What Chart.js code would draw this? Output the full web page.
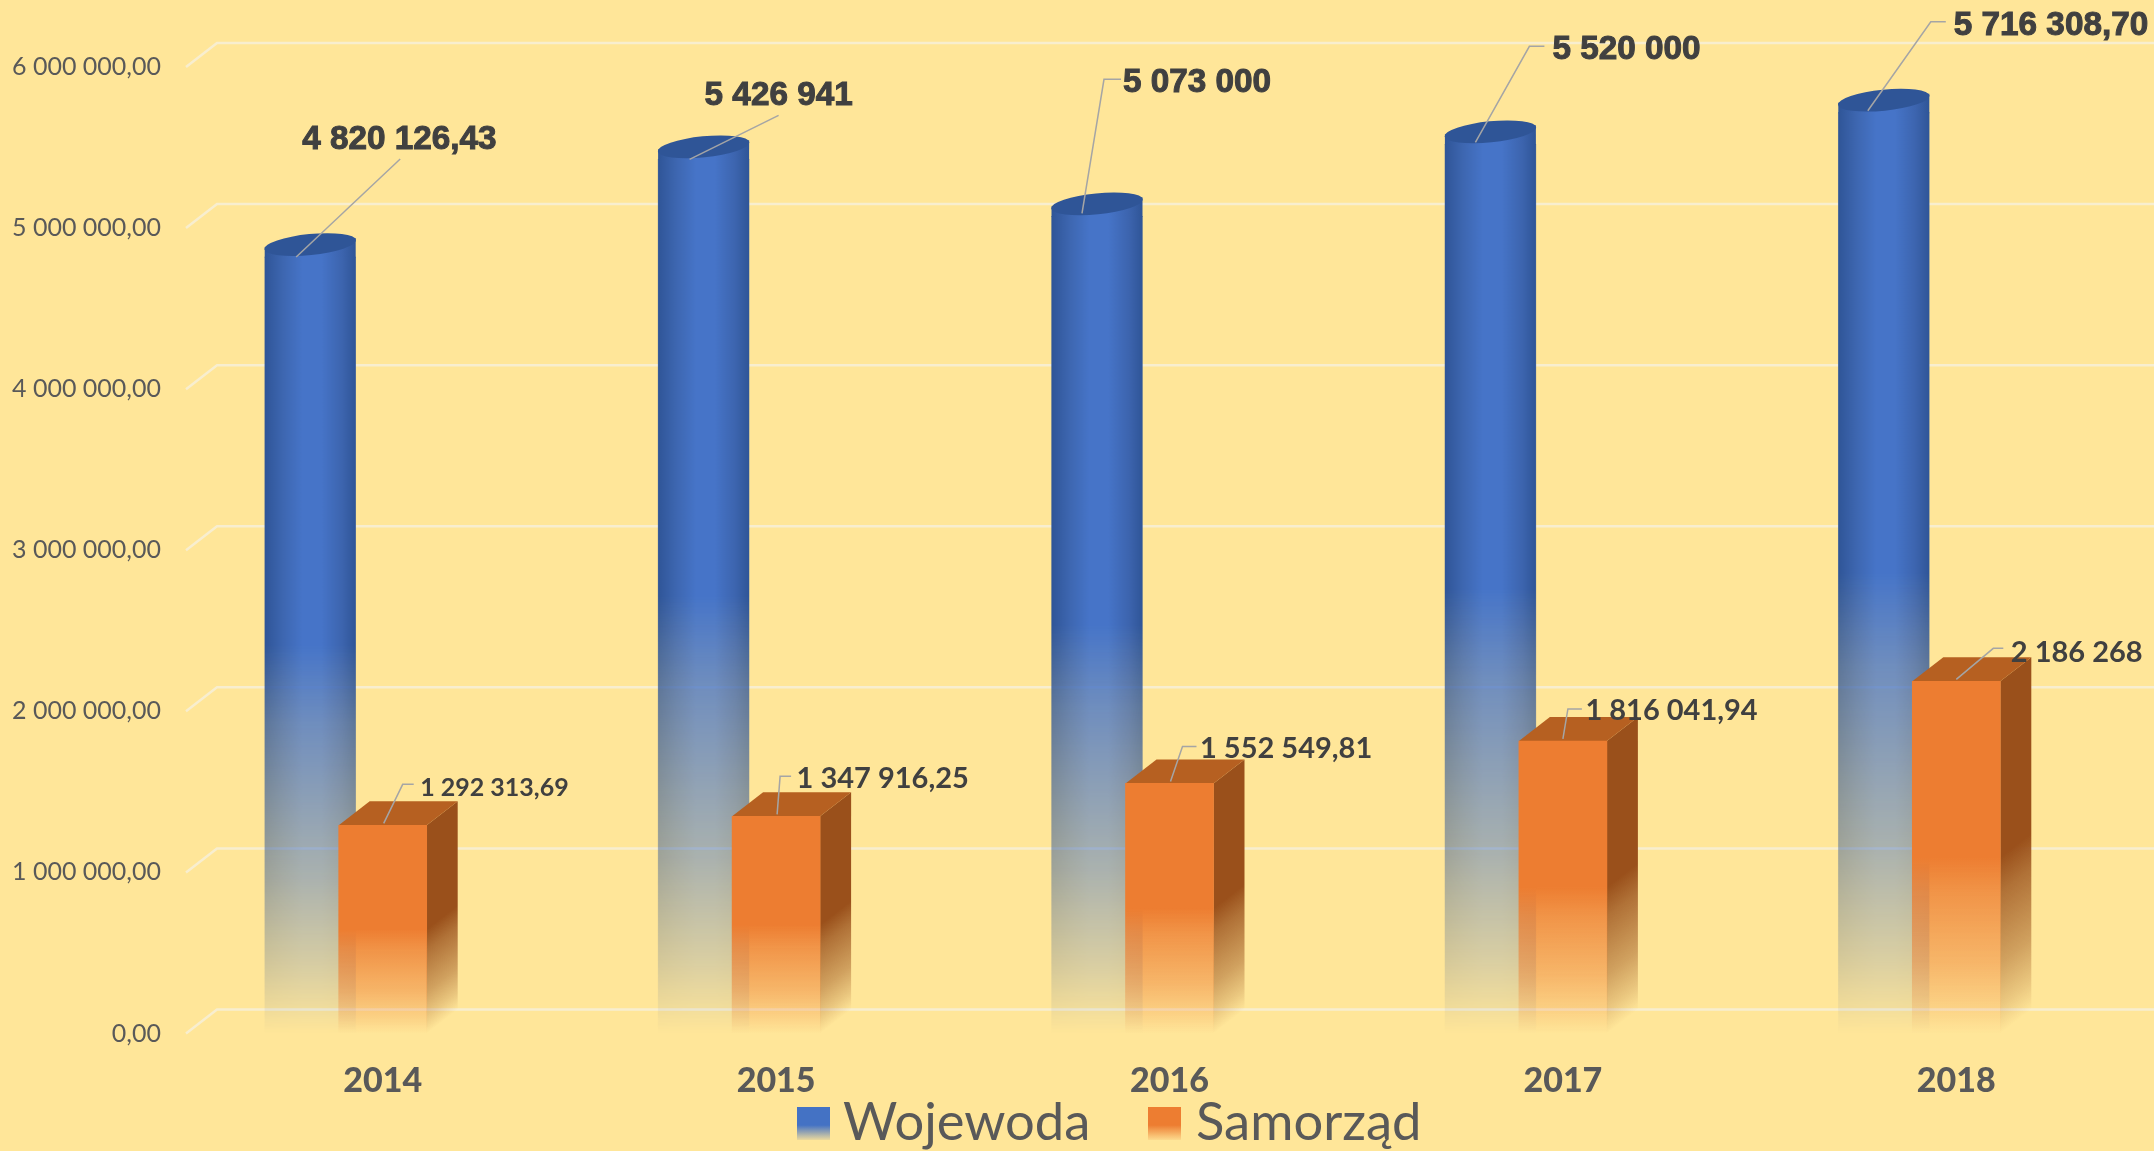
<!DOCTYPE html>
<html lang="pl">
<head>
<meta charset="utf-8">
<title>Wojewoda / Samorząd</title>
<script src="https://cdn.jsdelivr.net/npm/chart.js@4"></script>
<style>
  html, body { margin: 0; padding: 0; background: #FFE699; overflow: hidden; }
  canvas { display: block; }
</style>
</head>
<body>
<canvas id="wykres" width="2154" height="1151"></canvas>
<script>
const lata = ["2014", "2015", "2016", "2017", "2018"];
const wojewoda = [4820126.43, 5426941, 5073000, 5520000, 5716308.70];
const samorzad = [1292313.69, 1347916.25, 1552549.81, 1816041.94, 2186268];
const etykietyWojewoda = ["4 820 126,43", "5 426 941", "5 073 000", "5 520 000", "5 716 308,70"];
const etykietySamorzad = ["1 292 313,69", "1 347 916,25", "1 552 549,81", "1 816 041,94", "2 186 268"];
const osY = ["0,00", "1 000 000,00", "2 000 000,00", "3 000 000,00", "4 000 000,00", "5 000 000,00", "6 000 000,00"];

// geometria "3D"
const GLEBIA_X = 31, GLEBIA_Y = 24;
const PRZESUN_WALEC = -72.5;

// odnośniki: punkty linii i początek tekstu, względem szczytu słupka
const odnosnikiWojewoda = [
    { linia: [[-14, 0], [90, -98]], tekst: [-8, -117.5] },
    { linia: [[-14, 0], [75, -44]], tekst: [1, -63.5] },
    { linia: [[-15, -3], [7, -137], [24, -137]], tekst: [26, -133.5] },
    { linia: [[-15, -2], [39, -98], [54, -98]], tekst: [62, -94.5] },
    { linia: [[-16, -2], [47, -91], [62, -91]], tekst: [70, -87] }
];
const odnosnikiSamorzad = [
    { linia: [[1, -2], [20, -41], [31, -41]], tekst: [37.5, -37.5], font: 25 },
    { linia: [[1, -2], [4, -40], [15, -40]], tekst: [20.5, -37.5], font: 29 },
    { linia: [[1, -2], [13, -37], [27, -37]], tekst: [30.5, -34.5], font: 29 },
    { linia: [[0, -2], [5, -32], [19, -32]], tekst: [22.5, -30], font: 29 },
    { linia: [[0, -2], [37, -33], [47, -33]], tekst: [54.5, -28.5], font: 29 }
];

// legenda: x próbki, x tekstu
const legenda = [
    { probka: 797, tekst: 843, rgb: [68, 114, 196] },
    { probka: 1148, tekst: 1196, rgb: [237, 125, 49] }
];

function zanik(grad, kolor) {
    const [r, g, b] = kolor;
    [[0, 1], [0.5, 1], [0.6, 0.78], [0.8, 0.46], [0.92, 0.2], [1, 0]].forEach(([p, a]) => {
        grad.addColorStop(p, `rgba(${r},${g},${b},${a})`);
    });
    return grad;
}

function poziomWalca(c, lewa, szer) {
    const g = c.createLinearGradient(lewa, 0, lewa + szer, 0);
    g.addColorStop(0, "#2F5597");
    g.addColorStop(0.2, "#3D66B0");
    g.addColorStop(0.42, "#4674C8");
    g.addColorStop(0.62, "#4674C8");
    g.addColorStop(0.85, "#3C64AE");
    g.addColorStop(1, "#2F5597");
    return g;
}

// wzór dla walca: cieniowanie w poziomie razem z zanikiem w pionie
function wzorWalca(ctx) {
    const chart = ctx.chart;
    if (ctx.type !== "data" || !chart.chartArea) return "#4472C4";
    const x = chart.scales.x.getPixelForValue(ctx.dataIndex);
    const y = chart.scales.y.getPixelForValue(wojewoda[ctx.dataIndex]);
    const dol = chart.scales.y.getPixelForValue(0);
    const p = document.createElement("canvas");
    p.width = chart.width;
    p.height = chart.height;
    const c = p.getContext("2d");
    c.fillStyle = poziomWalca(c, x - 45.5, 91);
    c.fillRect(x - 46, y - 30, 92, dol - y + 30);
    c.globalCompositeOperation = "destination-in";
    c.fillStyle = zanik(c.createLinearGradient(0, y, 0, dol), [0, 0, 0]);
    c.fillRect(0, 0, p.width, p.height);
    return c.createPattern(p, "no-repeat");
}

function kolorSamorzad(ctx) {
    const chart = ctx.chart;
    if (ctx.type !== "data" || !chart.chartArea) return "#ED7D31";
    const y = chart.scales.y.getPixelForValue(samorzad[ctx.dataIndex]);
    const dol = chart.scales.y.getPixelForValue(0);
    return zanik(chart.ctx.createLinearGradient(0, y, 0, dol), [237, 125, 49]);
}

function rysujOdnosnik(c, bar, dx, o) {
    const cx = bar.x + dx;
    c.save();
    c.strokeStyle = "#A5A5A5";
    c.lineWidth = 1.5;
    c.beginPath();
    o.linia.forEach(([px, py], i) => {
        if (i === 0) c.moveTo(cx + px, bar.y + py);
        else c.lineTo(cx + px, bar.y + py);
    });
    c.stroke();
    c.restore();
}

const efekt3d = {
    id: "efekt3d",
    beforeDatasetsDraw(chart) {
        const c = chart.ctx, sy = chart.scales.y, lewa = chart.chartArea.left;
        c.save();
        c.strokeStyle = "#F8EECF";
        c.lineWidth = 2.5;
        sy.ticks.forEach(t => {
            const y = sy.getPixelForValue(t.value);
            c.beginPath();
            c.moveTo(lewa, y);
            c.lineTo(lewa + GLEBIA_X, y - GLEBIA_Y);
            c.lineTo(chart.width, y - GLEBIA_Y);
            c.stroke();
        });
        c.restore();
    },
    beforeDatasetDraw(chart, args) {
        const c = chart.ctx;
        if (args.index === 0) {
            c.save();
            c.translate(PRZESUN_WALEC, 0);
            return;
        }
        // boki prostopadłościanów
        args.meta.data.forEach(bar => {
            const l = bar.x - bar.width / 2, r = bar.x + bar.width / 2, h = bar.base - bar.y;
            const t = GLEBIA_X * h / (GLEBIA_X * GLEBIA_X + GLEBIA_Y * GLEBIA_Y);
            c.fillStyle = zanik(c.createLinearGradient(r, bar.y, r + GLEBIA_Y * t, bar.y + GLEBIA_X * t), [154, 80, 27]);
            c.beginPath();
            c.moveTo(r, bar.y);
            c.lineTo(r + GLEBIA_X, bar.y - GLEBIA_Y);
            c.lineTo(r + GLEBIA_X, bar.base - GLEBIA_Y);
            c.lineTo(r, bar.base);
            c.closePath();
            c.fill();
            c.fillStyle = "#B66021";
            c.beginPath();
            c.moveTo(l, bar.y);
            c.lineTo(r, bar.y);
            c.lineTo(r + GLEBIA_X, bar.y - GLEBIA_Y);
            c.lineTo(l + GLEBIA_X, bar.y - GLEBIA_Y);
            c.closePath();
            c.fill();
        });
    },
    afterDatasetDraw(chart, args) {
        if (args.index !== 0) return;
        const c = chart.ctx;
        // górna część walca i denko
        args.meta.data.forEach(bar => {
            const l = bar.x - 45.5;
            c.fillStyle = poziomWalca(c, l, 91);
            c.beginPath();
            c.moveTo(l, bar.y - 10);
            c.lineTo(l + 91, bar.y - 19);
            c.lineTo(l + 91, bar.y + 0.5);
            c.lineTo(l, bar.y + 0.5);
            c.closePath();
            c.fill();
            c.fillStyle = "#2F5597";
            c.beginPath();
            c.ellipse(bar.x, bar.y - 12.5, 46, 10.5, -0.1, 0, Math.PI * 2);
            c.fill();
        });
        c.restore();
    },
    afterDatasetsDraw(chart) {
        const c = chart.ctx;
        const m0 = chart.getDatasetMeta(0), m1 = chart.getDatasetMeta(1);
        c.save();
        c.textBaseline = "middle";
        c.textAlign = "left";
        c.fillStyle = "#404040";
        m0.data.forEach((bar, i) => {
            const o = odnosnikiWojewoda[i];
            rysujOdnosnik(c, bar, PRZESUN_WALEC, o);
            c.font = "bold 33.3px 'Liberation Sans'";
            c.strokeStyle = "#404040";
            c.lineWidth = 1;
            const x = bar.x + PRZESUN_WALEC + o.tekst[0], y = bar.y + o.tekst[1];
            c.fillText(etykietyWojewoda[i], x, y);
            c.strokeText(etykietyWojewoda[i], x, y);
        });
        m1.data.forEach((bar, i) => {
            const o = odnosnikiSamorzad[i];
            rysujOdnosnik(c, bar, 0, o);
            c.font = `bold ${o.font}px Lato`;
            c.fillText(etykietySamorzad[i], bar.x + o.tekst[0], bar.y + o.tekst[1]);
        });
        // legenda
        c.font = "52.5px Lato";
        legenda.forEach((l, i) => {
            const [r, g, b] = l.rgb;
            const grad = c.createLinearGradient(0, 1107, 0, 1140);
            grad.addColorStop(0, `rgba(${r},${g},${b},1)`);
            grad.addColorStop(0.55, `rgba(${r},${g},${b},1)`);
            grad.addColorStop(1, `rgba(${r},${g},${b},0.1)`);
            c.fillStyle = grad;
            c.fillRect(l.probka, 1107, 33, 33);
            c.fillStyle = "#595959";
            c.fillText(chart.data.datasets[i].label, l.tekst, 1123);
        });
        c.restore();
    }
};

new Chart(document.getElementById("wykres"), {
    type: "bar",
    plugins: [efekt3d],
    data: {
        labels: lata,
        datasets: [
            { label: "Wojewoda", data: wojewoda, order: 2, grouped: false, barThickness: 91, backgroundColor: wzorWalca },
            { label: "Samorząd", data: samorzad, order: 1, grouped: false, barThickness: 88, backgroundColor: kolorSamorzad }
        ]
    },
    options: {
        responsive: false,
        animation: false,
        layout: { padding: { top: 67, right: 1, left: 0, bottom: 17.5 } },
        scales: {
            x: {
                grid: { display: false },
                border: { display: false },
                ticks: { color: "#595959", font: { family: "Lato", size: 34, weight: "900" }, padding: 19 },
                afterFit(scale) { scale.height = 100; }
            },
            y: {
                min: 0,
                max: 6000000,
                grid: { display: false },
                border: { display: false },
                ticks: {
                    stepSize: 1000000,
                    color: "#595959",
                    padding: 17,
                    font: { family: "Lato", size: 25 },
                    callback: (v, i) => osY[i]
                },
                afterFit(scale) { scale.width = 186; }
            }
        },
        plugins: {
            title: { display: false },
            tooltip: { enabled: false },
            legend: { display: false }
        }
    }
});
</script>
</body>
</html>
